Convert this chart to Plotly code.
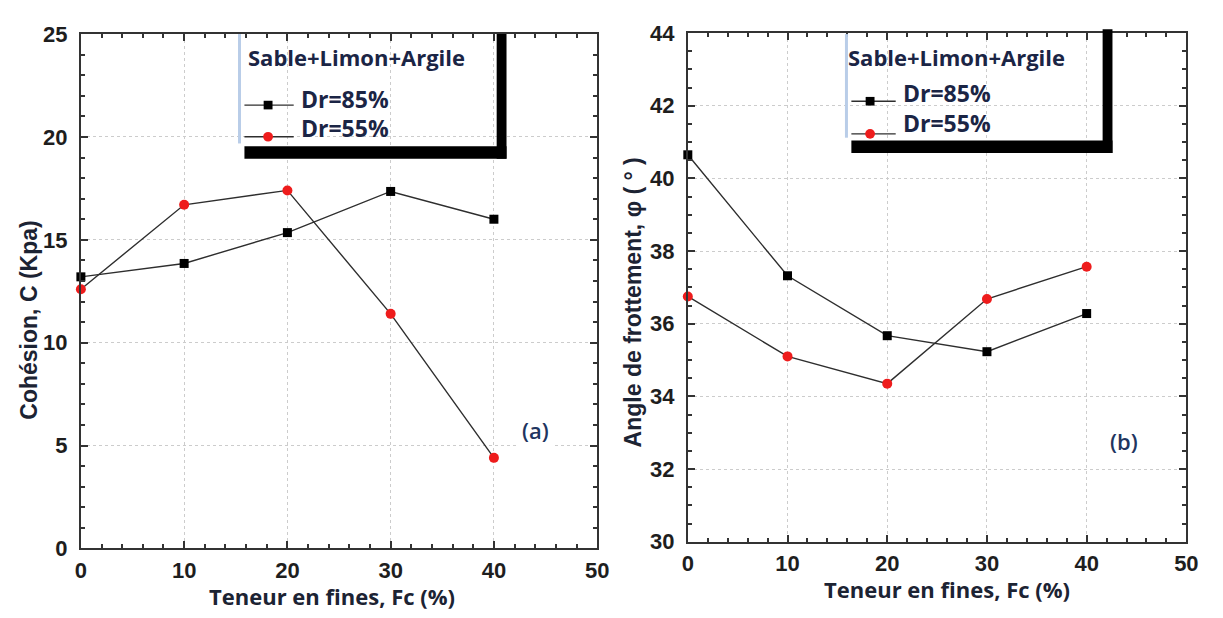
import plotly.graph_objects as go

# Fine content (%) tested for each relative density
fines = [0, 10, 20, 30, 40]

# Cohesion C (kPa)
cohesion_dr85 = [13.2, 13.85, 15.35, 17.35, 16.0]
cohesion_dr55 = [12.6, 16.7, 17.4, 11.4, 4.4]

# Friction angle phi (degrees)
phi_dr85 = [40.65, 37.32, 35.67, 35.23, 36.28]
phi_dr55 = [36.75, 35.1, 34.35, 36.68, 37.57]

series_names = ["Dr=85%", "Dr=55%"]
legend_title = "Sable+Limon+Argile"
x_title = "Teneur en fines, Fc (%)"
y_titles = ["Cohésion, C (Kpa)", "Angle de frottement, φ ( ° )"]
panel_tags = ["(a)", "(b)"]

W, H = 1223, 618


def px(x):
    return x / W


def py(y):
    return 1 - y / H


LINE = "#2e2e2e"
RED = "#ee1c1c"
NAVY = "#1b2545"
TICK_FONT = dict(family="Arial, Liberation Sans", size=22, color="#1e1e1e", weight="bold")
LEG_TITLE_FONT = dict(family="Open Sans", size=22, color=NAVY, weight="bold")
LEG_FONT = dict(family="Open Sans", size=23, color=NAVY, weight="bold")

fig = go.Figure()

panels = [
    dict(xa="x", ya="y", data=(cohesion_dr85, cohesion_dr55)),
    dict(xa="x2", ya="y2", data=(phi_dr85, phi_dr55)),
]
for p in panels:
    d85, d55 = p["data"]
    fig.add_trace(go.Scatter(
        x=fines, y=d85, xaxis=p["xa"], yaxis=p["ya"], mode="lines+markers",
        name=series_names[0], line=dict(color=LINE, width=1.4),
        marker=dict(symbol="square", size=9, color="black"), cliponaxis=False,
    ))
    fig.add_trace(go.Scatter(
        x=fines, y=d55, xaxis=p["xa"], yaxis=p["ya"], mode="lines+markers",
        name=series_names[1], line=dict(color=LINE, width=1.4),
        marker=dict(symbol="circle", size=10, color=RED), cliponaxis=False,
    ))


def xaxis_cfg(domain, anchor):
    return dict(
        domain=domain, anchor=anchor, range=[0, 50], dtick=10, tick0=0,
        showline=True, linecolor="#333", linewidth=2, mirror="allticks",
        ticks="inside", ticklen=7, tickwidth=1.5, tickcolor="#333",
        minor=dict(dtick=2, ticks="inside", ticklen=4, tickwidth=1.5, tickcolor="#333", showgrid=False),
        showgrid=True, gridcolor="#cccccc", griddash="dot", gridwidth=1,
        zeroline=False, tickfont=TICK_FONT, ticklabelstandoff=1,
    )


def yaxis_cfg(domain, anchor, rng, dtick, minor):
    return dict(
        domain=domain, anchor=anchor, range=rng, dtick=dtick, tick0=rng[0],
        showline=True, linecolor="#333", linewidth=2, mirror="allticks",
        ticks="inside", ticklen=7, tickwidth=1.5, tickcolor="#333",
        minor=dict(dtick=minor, ticks="inside", ticklen=4, tickwidth=1.5, tickcolor="#333", showgrid=False),
        showgrid=True, gridcolor="#cccccc", griddash="dot", gridwidth=1,
        zeroline=False, tickfont=TICK_FONT, ticklabelstandoff=7,
    )


shapes = []
annotations = []


def legend_box(left, top, right, bottom, bar_top, title_xy, rows):
    # white panel, light-blue left edge, thick black shadow bottom/right
    shapes.append(dict(type="rect", xref="paper", yref="paper", layer="between",
                       x0=px(left), x1=px(right), y0=py(bottom), y1=py(top + 4),
                       fillcolor="white", line=dict(width=0)))
    shapes.append(dict(type="line", xref="paper", yref="paper", layer="above",
                       x0=px(left), x1=px(left), y0=py(top), y1=py(bottom - 3),
                       line=dict(color="#b9cde8", width=3)))
    shapes.append(dict(type="rect", xref="paper", yref="paper", layer="above",
                       x0=px(left + 5), x1=px(right + 10), y0=py(bottom + 13), y1=py(bottom),
                       fillcolor="black", line=dict(width=0)))
    shapes.append(dict(type="rect", xref="paper", yref="paper", layer="above",
                       x0=px(right), x1=px(right + 10), y0=py(bottom + 13), y1=py(bar_top),
                       fillcolor="black", line=dict(width=0)))
    annotations.append(dict(xref="paper", yref="paper", x=px(title_xy[0]), y=py(title_xy[1]),
                            xanchor="left", yanchor="middle", showarrow=False,
                            text=legend_title, font=LEG_TITLE_FONT))
    for (lx0, lx1, ly, mx, tx, ty, name, kind) in rows:
        shapes.append(dict(type="line", xref="paper", yref="paper", layer="above",
                           x0=px(lx0), x1=px(lx1), y0=py(ly), y1=py(ly),
                           line=dict(color=LINE, width=1.4)))
        if kind == "square":
            shapes.append(dict(type="rect", xref="paper", yref="paper", layer="above",
                               x0=px(mx - 4.5), x1=px(mx + 4.5), y0=py(ly + 4.5), y1=py(ly - 4.5),
                               fillcolor="black", line=dict(width=0)))
        else:
            shapes.append(dict(type="circle", xref="paper", yref="paper", layer="above",
                               x0=px(mx - 5), x1=px(mx + 5), y0=py(ly + 5), y1=py(ly - 5),
                               fillcolor=RED, line=dict(width=0)))
        annotations.append(dict(xref="paper", yref="paper", x=px(tx), y=py(ty),
                                xanchor="left", yanchor="middle", showarrow=False,
                                text=name, font=LEG_FONT))


legend_box(237, 23, 498, 140, 23, (244, 47), [
    (242, 292, 97, 266, 297, 91, series_names[0], "square"),
    (242, 292, 130, 266, 297, 121, series_names[1], "circle"),
])
legend_box(853, 23, 1113, 134, 18, (853, 47), [
    (858, 903, 93, 877, 908, 84, series_names[0], "square"),
    (858, 903, 127, 877, 908, 116, series_names[1], "circle"),
])

TITLE_FONT = dict(family="Arial, Liberation Sans", size=23, color="#1c2333", weight="bold")
XT_FONT = dict(family="Open Sans", size=22, color="#1c2333", weight="bold")
TAG_FONT = dict(family="Open Sans", size=22, color="#1f3560", weight=600)

annotations += [
    dict(xref="paper", yref="paper", x=px(331), y=py(609), text=x_title, showarrow=False,
         xanchor="center", yanchor="middle", font=XT_FONT),
    dict(xref="paper", yref="paper", x=px(955), y=py(601), text=x_title, showarrow=False,
         xanchor="center", yanchor="middle", font=XT_FONT),
    dict(xref="paper", yref="paper", x=px(23), y=py(321), text=y_titles[0], showarrow=False,
         textangle=-90, xanchor="center", yanchor="middle", font=TITLE_FONT),
    dict(xref="paper", yref="paper", x=px(636), y=py(303), text=y_titles[1], showarrow=False,
         textangle=-90, xanchor="center", yanchor="middle", font=TITLE_FONT),
    dict(xref="paper", yref="paper", x=px(537), y=py(436), text=panel_tags[0], showarrow=False,
         xanchor="center", yanchor="middle", bgcolor="white", borderpad=4, font=TAG_FONT),
    dict(xref="paper", yref="paper", x=px(1135), y=py(447), text=panel_tags[1], showarrow=False,
         xanchor="center", yanchor="middle", bgcolor="white", borderpad=4, font=TAG_FONT),
]

fig.update_layout(
    width=W, height=H, margin=dict(l=0, r=0, t=0, b=0),
    paper_bgcolor="white", plot_bgcolor="white", showlegend=False,
    xaxis=xaxis_cfg([px(76), px(600)], "y"),
    yaxis=yaxis_cfg([py(559), py(23)], "x", [0, 25], 5, 1),
    xaxis2=xaxis_cfg([px(692), px(1198)], "y2"),
    yaxis2=yaxis_cfg([py(552), py(22)], "x2", [30, 44], 2, 0.5),
    shapes=shapes, annotations=annotations,
)

fig.write_html("out.html")
